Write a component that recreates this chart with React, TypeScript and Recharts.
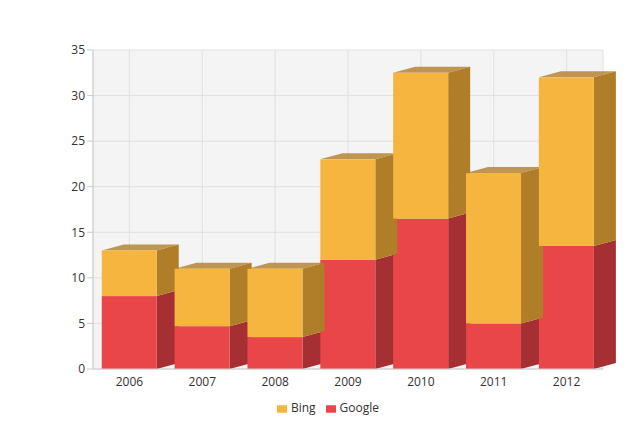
import React from "react";
import { BarChart, Bar, XAxis, YAxis, CartesianGrid, Legend } from "recharts";

const years = ["2006", "2007", "2008", "2009", "2010", "2011", "2012"];
const google = [8, 4.7, 3.5, 12, 16.5, 5, 13.5];
const bing = [5, 6.3, 7.5, 11, 16, 16.5, 18.5];
const yTicks = [0, 5, 10, 15, 20, 25, 30, 35];

const data = years.map((year, i) => ({ year, Google: google[i], Bing: bing[i] }));

const D = 22;
const DY = 6;

const Box = (props: any) => {
  const { x, y, width, height, fill, side, top } = props;
  if (!height) return null;
  return (
    <g>
      <polygon
        points={`${x + width},${y} ${x + width + D},${y - DY} ${x + width + D},${y + height - DY} ${x + width},${y + height}`}
        fill={side}
      />
      {top && (
        <polygon
          points={`${x},${y} ${x + D},${y - DY} ${x + width + D},${y - DY} ${x + width},${y}`}
          fill={side}
          opacity={0.8}
        />
      )}
      <rect x={x} y={y} width={width} height={height} fill={fill} />
    </g>
  );
};

const legendItems = [
  { value: "Google", type: "square" as const, color: "#E94649", id: "g" },
  { value: "Bing", type: "square" as const, color: "#F6B53F", id: "b" },
];

export default function App() {
  return (
    <div style={{ fontFamily: "Open Sans, sans-serif" }}>
      <BarChart
        width={625}
        height={428}
        data={data}
        margin={{ top: 42, right: 30, left: 55, bottom: 20 }}
        barCategoryGap="12%"
      >
        <CartesianGrid stroke="#e0e0e0" fill="#f4f4f4" vertical={true} />
        <XAxis dataKey="year" tick={{ fill: "#333", fontSize: 12 }} axisLine={{ stroke: "#ccc" }} tickLine={false} />
        <YAxis ticks={yTicks} domain={[0, 35]} tick={{ fill: "#333", fontSize: 12 }} axisLine={{ stroke: "#ccc" }} tickLine={{ stroke: "#ccc" }} width={30} />
        <Legend
          payload={legendItems}
          iconSize={10}
          formatter={(v: string) => <span style={{ color: "#333" }}>{v}</span>}
          wrapperStyle={{ fontSize: 12 }}
        />
        <Bar dataKey="Google" stackId="a" fill="#E94649" isAnimationActive={false}
          shape={(p: any) => <Box {...p} side="#A52F32" />} />
        <Bar dataKey="Bing" stackId="a" fill="#F6B53F" isAnimationActive={false}
          shape={(p: any) => <Box {...p} side="#B07E28" top />} />
      </BarChart>
    </div>
  );
}
